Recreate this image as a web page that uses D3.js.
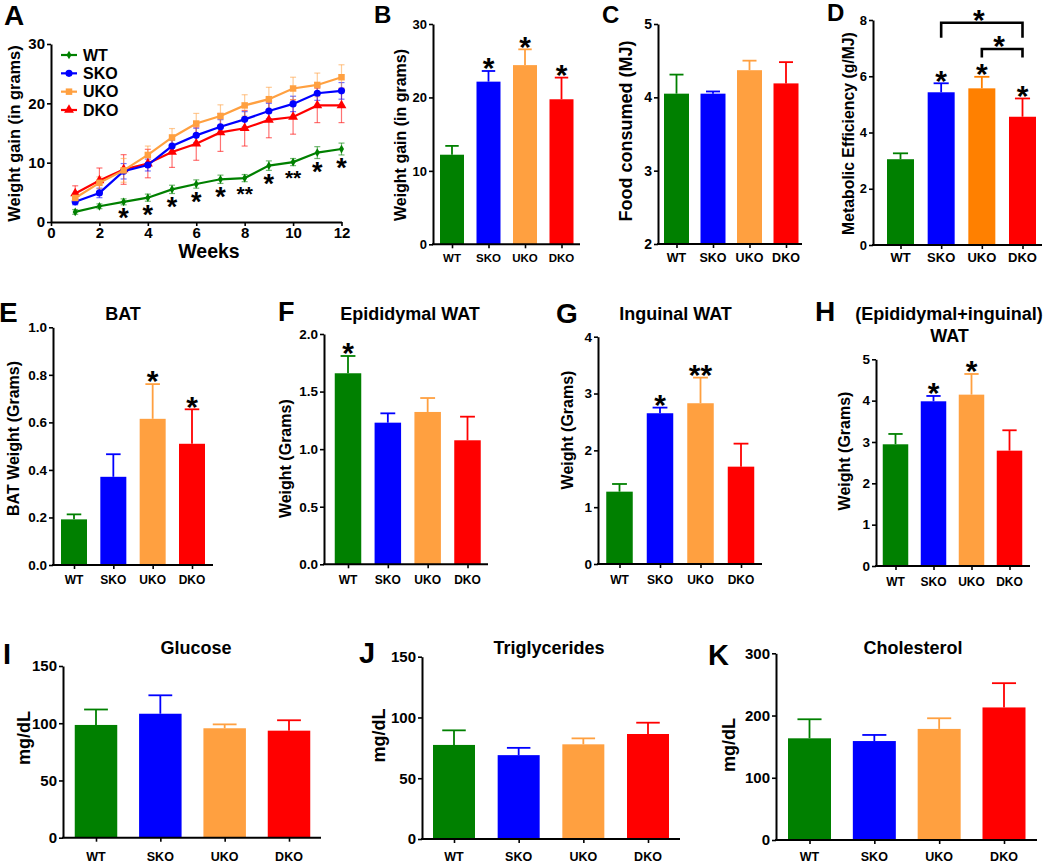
<!DOCTYPE html>
<html><head><meta charset="utf-8">
<script src="https://cdn.jsdelivr.net/npm/d3@7"></script>
<style>
body{margin:0;background:#fff}
svg text{font-family:"Liberation Sans",Arial,sans-serif;font-weight:bold;fill:#000}
</style>
</head><body>
<svg id="c" width="1050" height="864"></svg>
<script>
// ---------------- DATA ----------------
const groups = ["WT","SKO","UKO","DKO"];
const weeks = [1,2,3,4,5,6,7,8,9,10,11,12];
const weekTicks = [0,2,4,6,8,10,12];
const gainTicks = [0,10,20,30];
const wtGain  = [1.7,2.65,3.4,4.1,5.5,6.4,7.2,7.4,9.5,10.1,11.7,12.3];
const wtErr   = [0.4,0.4,0.5,0.6,0.7,0.7,0.7,0.6,0.8,0.6,1.0,1.0];
const skoGain = [3.4,4.9,8.55,9.6,12.8,14.6,16.05,17.3,18.7,19.9,21.7,22.1];
const skoErr  = [0.5,0.8,1.3,1.0,1.0,1.2,1.2,1.3,1.3,1.3,1.2,1.4];
const ukoGain = [4.05,6.6,8.7,11.3,14.25,16.6,17.85,19.65,20.7,22.5,23.1,24.4];
const ukoErr  = [0.7,1.0,2.0,1.5,1.5,1.7,1.9,1.8,2.0,1.9,2.0,2.1];
const dkoGain = [4.8,7.0,8.85,9.85,11.8,13.2,15.1,15.8,17.2,17.7,19.65,19.65];
const dkoErr  = [1.3,2.1,2.5,2.4,2.6,2.8,3.2,3.0,3.0,2.9,2.9,2.9];
const weekStars = ["","","*","*","*","*","*","**","*","**","*","*"];

const totalGain = [12.2,22.15,24.4,19.75];
const totalGainErr = [1.2,1.45,2.15,2.95];
const totalGainStars = ["","*","*","*"];
const totalGainTicks = [0,10,20,30];

const foodMJ = [4.05,4.05,4.37,4.19];
const foodMJErr = [0.26,0.03,0.13,0.29];
const foodTicks = [2,3,4,5];

const metabEff = [3.05,5.43,5.57,4.56];
const metabEffErr = [0.21,0.32,0.41,0.65];
const metabStars = ["","*","*","*"];
const metabTicks = [0,2,4,6,8];
const metabBrackets = [
  {from:"SKO", to:"DKO", top:7.9, leg:7.37, label:"*"},
  {from:"UKO", to:"DKO", top:6.97, leg:6.67, label:"*"}
];

const batW = [0.192,0.371,0.615,0.51];
const batErr = [0.021,0.095,0.146,0.145];
const batStars = ["","","*","*"];
const batTicks = [0,0.2,0.4,0.6,0.8,1.0];

const epiW = [1.659,1.23,1.323,1.077];
const epiErr = [0.15,0.081,0.121,0.205];
const epiStars = ["*","","",""];
const epiTicks = [0,0.5,1.0,1.5,2.0];

const ingW = [1.273,2.653,2.829,1.713];
const ingErr = [0.135,0.099,0.451,0.405];
const ingStars = ["","*","**",""];
const ingTicks = [0,1,2,3,4];

const sumW = [2.944,3.984,4.145,2.79];
const sumErr = [0.25,0.129,0.5,0.493];
const sumStars = ["","*","*",""];
const sumTicks = [0,1,2,3,4,5];

const glucose = [98.5,108.3,95.6,93.5];
const glucoseErr = [13.5,16.1,3.4,9.1];
const glucoseTicks = [0,50,100,150];

const trig = [77.4,69,77.9,86.4];
const trigErr = [12,6,4.9,9.3];
const trigTicks = [0,50,100,150];

const chol = [163.4,159,178.5,213];
const cholErr = [30.6,9.8,17.1,39];
const cholTicks = [0,100,200,300];

// ---------------- STYLE ----------------
const COL = {WT:"#008000", SKO:"#0000FF", UKO:"#FFA040", DKO:"#FF0000"};
const COL_D = {WT:"#008000", SKO:"#0000FF", UKO:"#FF8000", DKO:"#FF0000"};
const svg = d3.select("#c");

function txt(g, x, y, s, size, anchor){
  return g.append("text").attr("x",x).attr("y",y).attr("font-size",size)
    .attr("text-anchor",anchor||"start").text(s);
}
function starText(g, x, cy, s, size){
  // center of asterisk glyph ~0.575em above baseline
  return txt(g, x, cy + 0.575*size, s, size, "middle");
}
function rotLabel(g, cx, cy, s, size){
  g.append("text").attr("transform",`translate(${cx},${cy}) rotate(-90)`)
    .attr("font-size",size).attr("text-anchor","middle").attr("dy","0.35em").text(s);
}

function styleYAxis(ax, font, off){
  ax.select(".domain").attr("stroke","#000").attr("stroke-width",2);
  ax.selectAll(".tick line").attr("stroke","#000").attr("stroke-width",1.6);
  ax.selectAll(".tick text").attr("font-size",font).attr("x",-off)
    .style("font-family","'Liberation Sans',Arial,sans-serif").style("font-weight","bold").attr("fill","#000");
  ax.attr("font-family",null).attr("font-size",null);
}

// ---------------- BAR PANEL ----------------
function barPanel(c){
  const g = svg.append("g");
  const y = d3.scaleLinear().domain(c.yDomain).range(c.yRange);
  const x = d3.scalePoint().domain(groups).range([c.c0, c.c3]);
  const base = y(c.yDomain[0]);
  const cols = c.colors || COL;
  groups.forEach((k,i)=>{
    const xc = x(k), v = c.vals[i], e = c.errs[i];
    g.append("line").attr("x1",xc).attr("x2",xc).attr("y1",y(v)).attr("y2",y(v+e))
      .attr("stroke",cols[k]).attr("stroke-width",1.8);
    g.append("line").attr("x1",xc-c.bw*0.28).attr("x2",xc+c.bw*0.28)
      .attr("y1",y(v+e)).attr("y2",y(v+e)).attr("stroke",cols[k]).attr("stroke-width",1.8);
    g.append("rect").attr("x",xc-c.bw/2).attr("y",y(v)).attr("width",c.bw)
      .attr("height",base-y(v)).attr("fill",cols[k]);
    if(c.stars && c.stars[i]) starText(g, xc, y(v+e)-10, c.stars[i], c.starSize||30);
  });
  const ax = g.append("g").attr("transform",`translate(${c.x0},0)`)
    .call(d3.axisLeft(y).tickValues(c.ticks).tickSize(4).tickSizeOuter(0).tickFormat(c.fmt||d3.format("")));
  styleYAxis(ax, c.tickFont, 6);
  g.append("line").attr("x1",c.x0-1).attr("x2",c.x1).attr("y1",base).attr("y2",base)
    .attr("stroke","#000").attr("stroke-width",2);
  const xa = g.append("g").attr("transform",`translate(0,${base})`)
    .call(d3.axisBottom(x).tickSize(4).tickSizeOuter(0));
  xa.select(".domain").remove();
  xa.selectAll(".tick line").attr("stroke","#000").attr("stroke-width",1.6);
  xa.selectAll(".tick text").remove();
  groups.forEach(k=> txt(g, x(k), c.catY, k, c.catFont, "middle"));
  rotLabel(g, c.ylx, c.yly, c.yLabel, c.yLabelFont);
  if(c.title) c.title.forEach(t=> txt(g, t.x, t.y, t.s, 18, "middle"));
  txt(g, c.letter.x, c.letter.y, c.letter.s, c.letter.size);
  return {g, x, y};
}

// ---------------- PANEL A ----------------
(function(){
  const g = svg.append("g");
  const x = d3.scaleLinear().domain([0,12]).range([51,341.5]);
  const y = d3.scaleLinear().domain([0,30]).range([222,44]);
  const series = [
    {k:"DKO", v:dkoGain, e:dkoErr, sym:d3.symbolTriangle, size:42},
    {k:"SKO", v:skoGain, e:skoErr, sym:d3.symbolCircle, size:40},
    {k:"UKO", v:ukoGain, e:ukoErr, sym:d3.symbolSquare, size:42},
    {k:"WT",  v:wtGain,  e:wtErr,  sym:d3.symbolDiamond, size:22}
  ];
  const line = d3.line().x((d,i)=>x(weeks[i])).y(d=>y(d));
  series.forEach(s=>{
    weeks.forEach((w,i)=>{
      const xc = x(w);
      g.append("line").attr("x1",xc).attr("x2",xc).attr("y1",y(s.v[i]-s.e[i])).attr("y2",y(s.v[i]+s.e[i]))
        .attr("stroke",COL[s.k]).attr("stroke-width",1.2).attr("opacity",0.55);
      [s.v[i]-s.e[i], s.v[i]+s.e[i]].forEach(vv=>
        g.append("line").attr("x1",xc-3).attr("x2",xc+3).attr("y1",y(vv)).attr("y2",y(vv))
          .attr("stroke",COL[s.k]).attr("stroke-width",1.2).attr("opacity",0.55));
    });
  });
  series.forEach(s=>{
    g.append("path").datum(s.v).attr("d",line).attr("fill","none")
      .attr("stroke",COL[s.k]).attr("stroke-width",2.2);
    s.v.forEach((v,i)=> g.append("path").attr("d",d3.symbol().type(s.sym).size(s.size)())
      .attr("transform",`translate(${x(weeks[i])},${y(v)})`).attr("fill",COL[s.k]));
  });
  weeks.forEach((w,i)=>{
    if(weekStars[i]) starText(g, x(w), y(wtGain[i]-wtErr[i])+7, weekStars[i], weekStars[i]==="**"?21:27);
  });
  const ay = g.append("g").attr("transform","translate(51,0)")
    .call(d3.axisLeft(y).tickValues(gainTicks).tickSize(4).tickSizeOuter(0));
  styleYAxis(ay, 15, 6);
  const axb = g.append("g").attr("transform","translate(0,222)")
    .call(d3.axisBottom(x).tickValues(weekTicks).tickSize(4).tickSizeOuter(0));
  axb.select(".domain").attr("stroke","#000").attr("stroke-width",2);
  axb.selectAll(".tick line").attr("stroke","#000").attr("stroke-width",1.6);
  axb.selectAll(".tick text").attr("font-size",15).attr("y",5)
    .style("font-family","'Liberation Sans',Arial,sans-serif").style("font-weight","bold").attr("fill","#000");
  axb.attr("font-family",null).attr("font-size",null);
  txt(g, 209, 258, "Weeks", 19.5, "middle");
  rotLabel(g, 14, 133.5, "Weight gain (in grams)", 16.4);
  txt(g, 4, 25, "A", 28);
  const leg = [{k:"WT",sym:d3.symbolDiamond,size:22},{k:"SKO",sym:d3.symbolCircle,size:40},
               {k:"UKO",sym:d3.symbolSquare,size:42},{k:"DKO",sym:d3.symbolTriangle,size:42}];
  const ly = d3.scalePoint().domain(groups).range([55,110]);
  leg.forEach(l=>{
    const yy = ly(l.k);
    g.append("line").attr("x1",61).attr("x2",77).attr("y1",yy).attr("y2",yy)
      .attr("stroke",COL[l.k]).attr("stroke-width",2.2);
    g.append("path").attr("d",d3.symbol().type(l.sym).size(l.size)())
      .attr("transform",`translate(69,${yy})`).attr("fill",COL[l.k]);
    txt(g, 83, yy+5.8, l.k, 16);
  });
})();

// ---------------- PANELS B-K ----------------
barPanel({vals:totalGain, errs:totalGainErr, stars:totalGainStars, x0:433, x1:580, c0:452, c3:561.5, bw:24,
  yDomain:[0,30], yRange:[244.3,24], ticks:totalGainTicks, tickFont:13, catFont:11.5, catY:261.5,
  yLabel:"Weight gain (in grams)", ylx:400, yly:135, yLabelFont:16,
  letter:{x:374, y:23, s:"B", size:24}});

barPanel({vals:foodMJ, errs:foodMJErr, x0:658, x1:802, c0:676.5, c3:786, bw:25,
  yDomain:[2,5], yRange:[244,24], ticks:foodTicks, tickFont:14, catFont:12.5, catY:261.5,
  yLabel:"Food consumed (MJ)", ylx:626, yly:131, yLabelFont:18,
  letter:{x:602, y:23, s:"C", size:24}});

const pD = barPanel({vals:metabEff, errs:metabEffErr, stars:metabStars, colors:COL_D, x0:873, x1:1042, c0:900.5, c3:1022.5, bw:27,
  yDomain:[0,8], yRange:[245,20], ticks:metabTicks, tickFont:13, catFont:13, catY:261.5,
  yLabel:"Metabolic Efficiency (g/MJ)", ylx:848, yly:133.5, yLabelFont:15.8,
  letter:{x:827, y:21, s:"D", size:24}});
metabBrackets.forEach(b=>{
  const xa = pD.x(b.from), xb = pD.x(b.to), yt = pD.y(b.top), yl = pD.y(b.leg);
  pD.g.append("path").attr("d",`M${xa},${yl}V${yt}H${xb}V${yl}`).attr("fill","none")
    .attr("stroke","#000").attr("stroke-width",2.6);
  starText(pD.g, (xa+xb)/2-3, yt-10, b.label, 30);
});

barPanel({vals:batW, errs:batErr, stars:batStars, x0:53, x1:213, c0:74, c3:192, bw:26,
  yDomain:[0,1.0], yRange:[565,327.3], ticks:batTicks, fmt:d3.format(".1f"), tickFont:13.5, catFont:12, catY:583.5,
  yLabel:"BAT Weight (Grams)", ylx:13, yly:438.5, yLabelFont:16,
  title:[{x:123, y:320, s:"BAT"}], letter:{x:-1, y:322, s:"E", size:28}});

barPanel({vals:epiW, errs:epiErr, stars:epiStars, x0:324, x1:488, c0:348, c3:467.5, bw:26.5,
  yDomain:[0,2.0], yRange:[564.3,334], ticks:epiTicks, fmt:d3.format(".1f"), tickFont:13.5, catFont:12, catY:583.5,
  yLabel:"Weight (Grams)", ylx:285, yly:458.7, yLabelFont:16,
  title:[{x:410, y:320, s:"Epididymal WAT"}], letter:{x:278, y:321, s:"F", size:27}});

barPanel({vals:ingW, errs:ingErr, stars:ingStars, x0:598, x1:762, c0:619.5, c3:741, bw:26.5,
  yDomain:[0,4], yRange:[564,336.7], ticks:ingTicks, tickFont:13.5, catFont:12, catY:583.5,
  yLabel:"Weight (Grams)", ylx:567.5, yly:430, yLabelFont:16,
  title:[{x:675.5, y:320, s:"Inguinal WAT"}], letter:{x:556, y:322.5, s:"G", size:28}});

barPanel({vals:sumW, errs:sumErr, stars:sumStars, x0:876, x1:1030, c0:895.5, c3:1009.5, bw:25.5,
  yDomain:[0,5], yRange:[566,359.3], ticks:sumTicks, tickFont:13.5, catFont:12, catY:586,
  yLabel:"Weight (Grams)", ylx:844.5, yly:451, yLabelFont:16,
  title:[{x:949, y:320, s:"(Epididymal+inguinal)"},{x:949.5, y:341.5, s:"WAT"}], letter:{x:815, y:321, s:"H", size:28}});

barPanel({vals:glucose, errs:glucoseErr, x0:63, x1:321, c0:96, c3:289, bw:42.5,
  yDomain:[0,150], yRange:[837.7,666], ticks:glucoseTicks, tickFont:15, catFont:12.5, catY:860.8,
  yLabel:"mg/dL", ylx:24, yly:738, yLabelFont:18,
  title:[{x:196, y:653.5, s:"Glucose"}], letter:{x:3, y:664, s:"I", size:29}});

barPanel({vals:trig, errs:trigErr, x0:422, x1:680, c0:454, c3:648, bw:42,
  yDomain:[0,150], yRange:[839,656.7], ticks:trigTicks, tickFont:15, catFont:12.5, catY:860.8,
  yLabel:"mg/dL", ylx:378.5, yly:735.5, yLabelFont:18,
  title:[{x:549, y:653.5, s:"Triglycerides"}], letter:{x:359, y:663, s:"J", size:29}});

barPanel({vals:chol, errs:cholErr, x0:776, x1:1037, c0:809.5, c3:1004, bw:43,
  yDomain:[0,300], yRange:[840,653.3], ticks:cholTicks, tickFont:15, catFont:12.5, catY:860.8,
  yLabel:"mg/dL", ylx:729, yly:745, yLabelFont:18,
  title:[{x:913, y:653.5, s:"Cholesterol"}], letter:{x:708, y:665, s:"K", size:29}});
</script>
</body></html>
